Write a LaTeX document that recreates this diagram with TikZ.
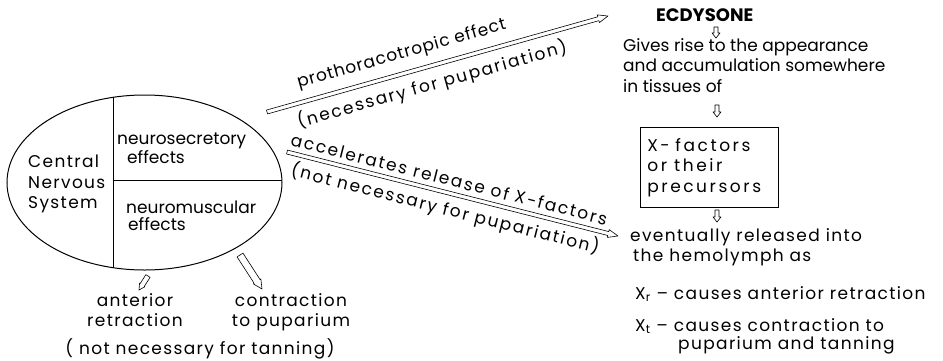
\documentclass[tikz,border=0pt]{standalone}
\usepackage{fontspec}
\setmainfont{Poppins}[LetterSpace=8]
\newfontfamily\narrowfont{Poppins}
\newfontfamily\midfont{Poppins}[LetterSpace=5]
\newfontfamily\widefont{Poppins}[LetterSpace=11]
\newfontfamily\boxfont{Poppins}[LetterSpace=15]
\usetikzlibrary{calc,positioning,shapes.geometric}

% hollow (outline) arrow: from, to, shaft half width, head half width, head length
\newcommand{\hollowarrow}[5]{%
  \draw[harrow] let \p1=($(#2)-(#1)$), \n1={atan2(\y1,\x1)}, \n2={veclen(\x1,\y1)} in
    [shift={(#1)}, rotate=\n1]
    (0pt,-#3) -- ({\n2*1pt-#5},-#3) -- ({\n2*1pt-#5},-#4) -- ({\n2*1pt},0pt)
    -- ({\n2*1pt-#5},#4) -- ({\n2*1pt-#5},#3) -- (0pt,#3) -- cycle;
}

\begin{document}
\begin{tikzpicture}[x=1pt, y=-1pt,
  txt/.style={font=\fontsize{17}{20.5}\selectfont, align=left, inner sep=0pt},
  tight/.style={txt, font=\fontsize{17}{16.5}\selectfont\narrowfont},
  lbl/.style={font=\fontsize{17}{20}\selectfont\widefont, inner sep=0pt, sloped},
  harrow/.style={draw=black, line width=0.6pt, fill=white, line join=round},
  cnsshape/.style={draw, ellipse, line width=1pt, minimum width=275pt, minimum height=175pt, inner sep=0pt}
]
\useasboundingbox (0,0) rectangle (943,360);

% nervous system
\node[cnsshape, path picture={
    \draw[line width=0.7pt] ([xshift=-31.5pt]path picture bounding box.north) -- ([xshift=-31.5pt]path picture bounding box.south);
    \draw[line width=0.7pt] ([xshift=-31.5pt,yshift=2.5pt]path picture bounding box.center) -- ([yshift=2.5pt]path picture bounding box.east);
  }] (cns) at (144.5,182.5) {};
\node[txt, anchor=north west] (cnstxt) at (28,155) {Central\\Nervous\\System};
\node[tight, anchor=north west] (nsec) at (117,133) {neurosecretory\\\hspace{10pt}effects};
\node[tight, anchor=north west] (nmus) at (126,201) {neuromuscular\\\hspace{2pt}effects};

% effects on the larva
\node[txt, align=center, anchor=north] (ant) at (135,293) {anterior\\retraction};
\node[txt, align=center, anchor=north] (con) at (291,293) {contraction\\to puparium};
\node[txt, anchor=north] (tan) at (200,338) {( not necessary for tanning)};
\coordinate (ants) at (148,276);
\coordinate (ante) at (139,290);
\coordinate (cons) at (240,255);
\coordinate (cone) at (262,289);
\hollowarrow{ants}{ante}{2.5pt}{3.2pt}{6pt}
\hollowarrow{cons}{cone}{3.5pt}{4.5pt}{9pt}

% ecdysone chain
\node[font=\fontsize{18}{20}\selectfont\narrowfont\bfseries, inner sep=0pt, anchor=north west] (ecd) at (656,8) {ECDYSONE};
\node[txt, font=\fontsize{17}{20.5}\selectfont\narrowfont, anchor=north west] (gives) at (623,38) {Gives rise to the appearance\\and accumulation somewhere\\in tissues of};
\node[txt, font=\fontsize{17}{20.5}\selectfont\boxfont, draw, line width=0.7pt, text width=124pt, inner xsep=7pt, minimum height=80pt, anchor=north west] (xfac) at (640,127) {X- factors\\or\hspace{7pt}their\\precursors};
\node[txt, anchor=north west] (rel) at (630,228) {eventually released into\\\hspace{3pt}the hemolymph as};
\node[txt, anchor=north west] (xr) at (635,286) {X\textsubscript{r} -- causes anterior retraction};
\node[txt, font=\fontsize{17}{18}\selectfont, anchor=north west] (xt) at (635,318) {X\textsubscript{t} -- causes contraction to\\\hspace{43pt}puparium and tanning};
\coordinate (d1s) at (716,27);
\coordinate (d1e) at (716,38);
\coordinate (d2s) at (717,105);
\coordinate (d2e) at (717,117);
\coordinate (d3s) at (717,210);
\coordinate (d3e) at (717,222);
\hollowarrow{d1s}{d1e}{2pt}{4pt}{5pt}
\hollowarrow{d2s}{d2e}{2pt}{4pt}{5pt}
\hollowarrow{d3s}{d3e}{2pt}{4pt}{5pt}

% long arrows from the brain
\coordinate (pts) at (267,112);
\coordinate (pte) at (608,16);
\coordinate (accs) at (287,152);
\coordinate (acce) at (618,236);
\hollowarrow{pts}{pte}{2pt}{4pt}{10pt}
\hollowarrow{accs}{acce}{2pt}{4pt}{10pt}
\path (pts) -- node[lbl, font=\fontsize{17}{20}\selectfont\midfont, pos=0.41, above=10pt] (ptl) {prothoracotropic effect}
  node[lbl, pos=0.47, below=8pt] (ptn) {(necessary for pupariation)} (pte);
\path (accs) -- node[lbl, pos=0.48, above=7pt] (accl) {accelerates release of X-factors}
  node[lbl, pos=0.49, below=6pt] (accn) {(not necessary for pupariation)} (acce);
\end{tikzpicture}
\end{document}
